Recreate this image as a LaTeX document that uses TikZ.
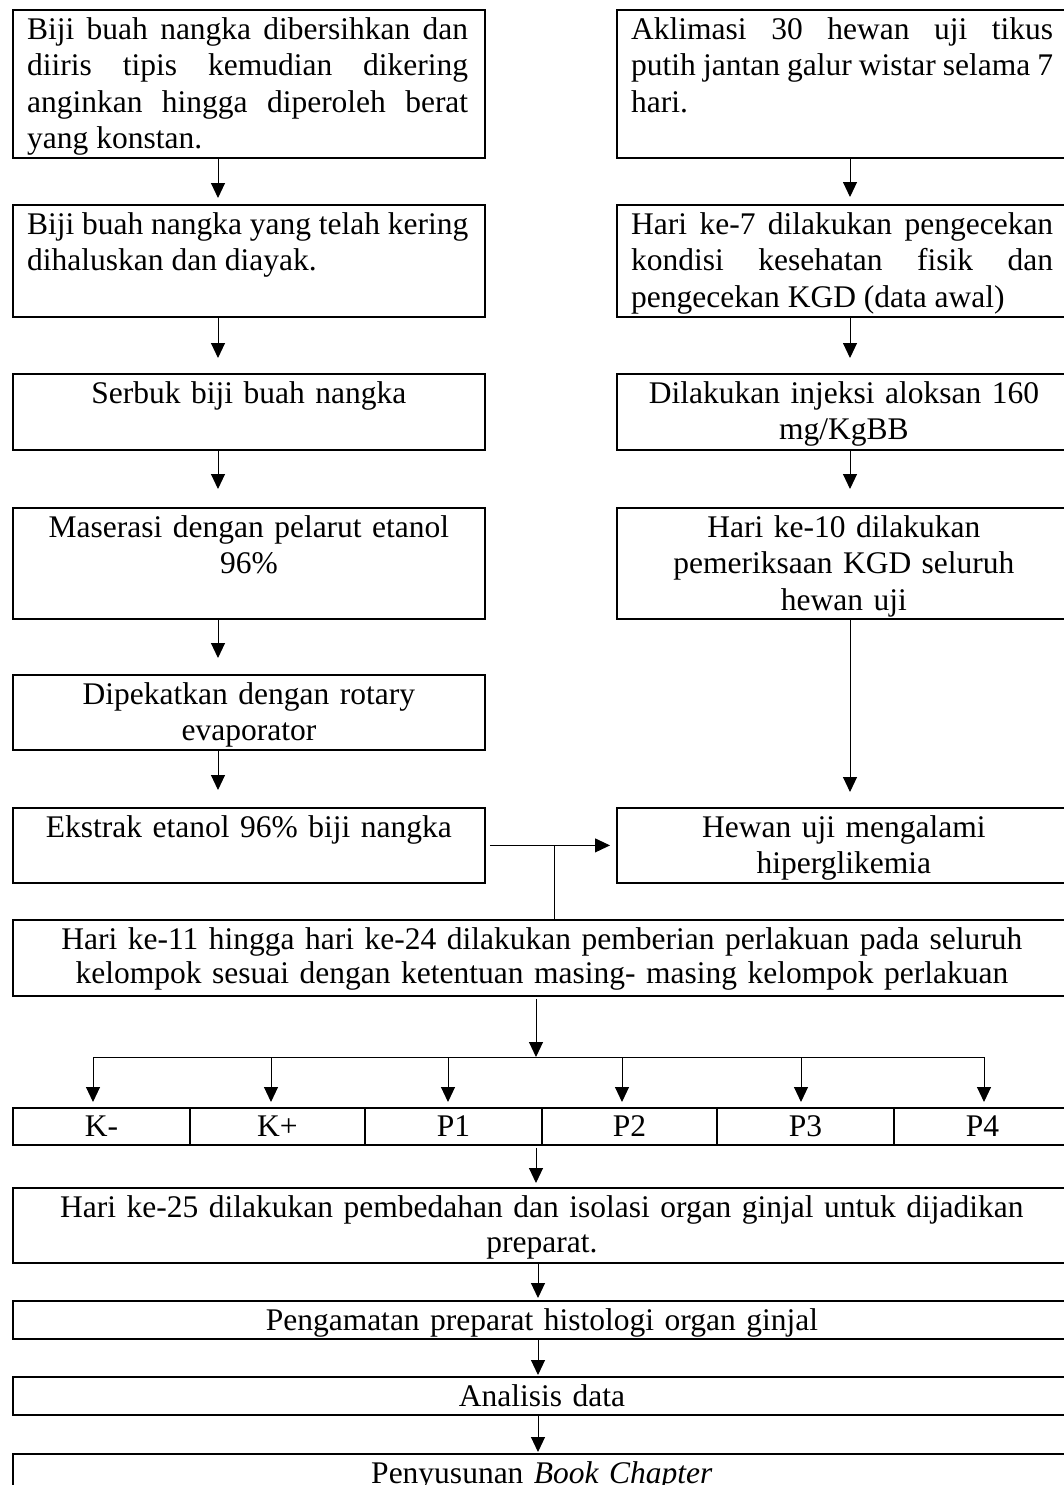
\documentclass[tikz,border=0pt]{standalone}
\usepackage{fontspec}
\setmainfont{Liberation Serif}
\usetikzlibrary{arrows.meta}
\hyphenpenalty=10000 \exhyphenpenalty=10000
\setlength\parindent{0pt}
\def\st{\leavevmode\vrule height 25pt depth 0pt width 0pt}
\tikzset{
 box/.style={draw, line width=1.8pt, inner sep=0pt, anchor=north west},
 jt/.style={inner sep=0pt, anchor=north west, text width=#1, align=justify, execute at begin node=\st, xshift=15pt, yshift=-5pt},
 ct/.style={inner sep=0pt, anchor=north, text width=#1, align=center, execute at begin node=\st, yshift=-5pt},
 arr/.style={line width=1pt, -{Triangle[length=15pt,width=14pt]}},
 ln/.style={line width=1pt},
}
\begin{document}
\begin{tikzpicture}[x=1pt,y=-1pt, font=\fontsize{31.5pt}{36.5pt}\selectfont]
\useasboundingbox (0,0) rectangle (1064,1485);
\fill[white] (0,0) rectangle (1064,1485);
% helper coordinates
\coordinate (lx) at (218,0);
\coordinate (rx) at (850,0);
\coordinate (jx) at (554,0);
\coordinate (mx) at (536,0);
\coordinate (bx) at (538,0);
\coordinate (bus) at (536,1057);
\coordinate (busL) at (93,1057);
\coordinate (busR) at (984,1057);
\coordinate (d1) at (93,1057);
\coordinate (d2) at (271,1057);
\coordinate (d3) at (448,1057);
\coordinate (d4) at (622,1057);
\coordinate (d5) at (801,1057);
\coordinate (d6) at (984,1057);
% left column boxes
\node[box, minimum width=472pt, minimum height=148pt] (b1) at (12,9) {};
\node[box, minimum width=472pt, minimum height=112pt] (b2) at (12,204) {};
\node[box, minimum width=472pt, minimum height=76pt] (b3) at (12,373) {};
\node[box, minimum width=472pt, minimum height=111pt] (b4) at (12,507) {};
\node[box, minimum width=472pt, minimum height=75pt] (b5) at (12,674) {};
\node[box, minimum width=472pt, minimum height=75pt] (b6) at (12,807) {};
% right column boxes
\node[box, minimum width=454pt, minimum height=148pt] (r1) at (616,9) {};
\node[box, minimum width=454pt, minimum height=112pt] (r2) at (616,204) {};
\node[box, minimum width=454pt, minimum height=76pt] (r3) at (616,373) {};
\node[box, minimum width=454pt, minimum height=111pt] (r4) at (616,507) {};
\node[box, minimum width=454pt, minimum height=75pt] (hw) at (616,807) {};
% wide boxes
\node[box, minimum width=1058pt, minimum height=76pt] (h11) at (12,919) {};
\node[box, minimum width=177pt, minimum height=37pt] (c1) at (12,1107) {K-};
\node[box, minimum width=175pt, minimum height=37pt] (c2) at (189,1107) {K+};
\node[box, minimum width=177pt, minimum height=37pt] (c3) at (364,1107) {P1};
\node[box, minimum width=175pt, minimum height=37pt] (c4) at (541,1107) {P2};
\node[box, minimum width=177pt, minimum height=37pt] (c5) at (716,1107) {P3};
\node[box, minimum width=177pt, minimum height=37pt] (c6) at (893,1107) {P4};
\node[box, minimum width=1058pt, minimum height=75pt] (h25) at (12,1187) {};
\node[box, minimum width=1058pt, minimum height=38pt] (pg) at (12,1300) {};
\node[box, minimum width=1058pt, minimum height=38pt] (an) at (12,1376) {};
\node[box, minimum width=1058pt, minimum height=60pt] (ps) at (12,1453) {};
% texts
\node[jt=441pt] (t1) at (b1.north west) {Biji buah nangka dibersihkan dan\linebreak diiris tipis kemudian dikering\linebreak anginkan hingga diperoleh berat\linebreak yang konstan.};
\node[jt=441pt] (t2) at (b2.north west) {Biji buah nangka yang telah kering\linebreak dihaluskan dan diayak.};
\node[ct=450pt] (t3) at (b3.north) {Serbuk biji buah nangka};
\node[ct=450pt] (t4) at (b4.north) {Maserasi dengan pelarut etanol\\96\%};
\node[ct=450pt] (t5) at (b5.north) {Dipekatkan dengan rotary\\evaporator};
\node[ct=450pt] (t6) at (b6.north) {Ekstrak etanol 96\% biji nangka};
\node[jt=422pt] (s1) at (r1.north west) {Aklimasi 30 hewan uji tikus\linebreak putih jantan galur wistar selama 7\linebreak hari.};
\node[jt=422pt] (s2) at (r2.north west) {Hari ke-7 dilakukan pengecekan\linebreak kondisi kesehatan fisik dan\linebreak pengecekan KGD (data awal)};
\node[ct=430pt] (s3) at (r3.north) {Dilakukan injeksi aloksan 160\\mg/KgBB};
\node[ct=430pt] (s4) at (r4.north) {Hari ke-10 dilakukan\\pemeriksaan KGD seluruh\\hewan uji};
\node[ct=430pt] (hwt) at (hw.north) {Hewan uji mengalami\\hiperglikemia};
\node[ct=1040pt, font=\fontsize{31.5pt}{34.5pt}\selectfont] (h11t) at (h11.north) {Hari ke-11 hingga hari ke-24 dilakukan pemberian perlakuan pada seluruh\\kelompok sesuai dengan ketentuan masing- masing kelompok perlakuan};
\node[ct=1040pt, font=\fontsize{31.5pt}{35pt}\selectfont] (h25t) at (h25.north) {Hari ke-25 dilakukan pembedahan dan isolasi organ ginjal untuk dijadikan\\preparat.};
\node[ct=1040pt] (pgt) at (pg.north) {Pengamatan preparat histologi organ ginjal};
\node[ct=1040pt] (ant) at (an.north) {Analisis data};
\node[ct=1040pt] (pst) at (ps.north) {Penyusunan \textit{Book Chapter}};
% left arrows
\draw[arr, shorten >=6pt] (lx |- b1.south) -- (lx |- b2.north);
\draw[arr, shorten >=15pt] (lx |- b2.south) -- (lx |- b3.north);
\draw[arr, shorten >=18pt] (lx |- b3.south) -- (lx |- b4.north);
\draw[arr, shorten >=16pt] (lx |- b4.south) -- (lx |- b5.north);
\draw[arr, shorten >=17pt] (lx |- b5.south) -- (lx |- b6.north);
% right arrows
\draw[arr, shorten >=7pt] (rx |- r1.south) -- (rx |- r2.north);
\draw[arr, shorten >=15pt] (rx |- r2.south) -- (rx |- r3.north);
\draw[arr, shorten >=18pt] (rx |- r3.south) -- (rx |- r4.north);
\draw[arr, shorten >=15pt] (rx |- r4.south) -- (rx |- hw.north);
% merge
\draw[arr, shorten <=4pt, shorten >=6pt] (b6.east) -- (hw.west);
\draw[ln] (jx |- b6.east) -- (jx |- h11.north);
\draw[arr, shorten <=2pt] (bus |- h11.south) -- (bus);
\draw[ln] (busL) -- (busR);
\draw[arr, shorten >=5pt] (d1) -- (d1 |- c1.north);
\draw[arr, shorten >=5pt] (d2) -- (d2 |- c2.north);
\draw[arr, shorten >=5pt] (d3) -- (d3 |- c3.north);
\draw[arr, shorten >=5pt] (d4) -- (d4 |- c4.north);
\draw[arr, shorten >=5pt] (d5) -- (d5 |- c5.north);
\draw[arr, shorten >=5pt] (d6) -- (d6 |- c6.north);
% bottom chain
\draw[arr, shorten <=2pt, shorten >=4pt] (mx |- c3.south) -- (mx |- h25.north);
\draw[arr, shorten >=2pt] (bx |- h25.south) -- (bx |- pg.north);
\draw[arr, shorten >=1pt] (bx |- pg.south) -- (bx |- an.north);
\draw[arr, shorten >=1pt] (bx |- an.south) -- (bx |- ps.north);
\end{tikzpicture}
\end{document}
